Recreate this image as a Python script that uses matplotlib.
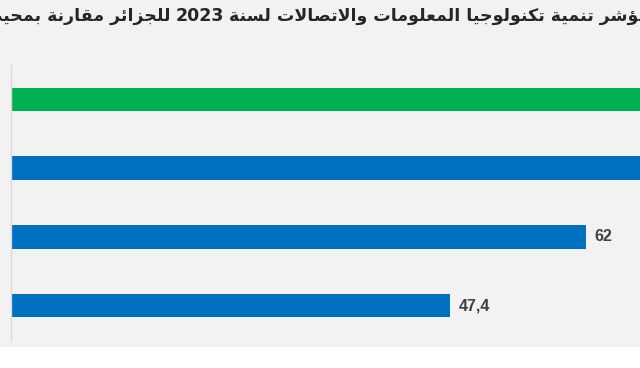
import matplotlib
matplotlib.use('Agg')
import matplotlib.pyplot as plt
from matplotlib.patches import Rectangle

# data (the two top bars run past the right edge of the picture)
categories = ['A', 'B', 'C', 'D']
values = [74.6, 73.1, 62, 47.4]
labels = ['74,6', '73,1', '62', '47,4']
colors = ['#00b050', '#0070c0', '#0070c0', '#0070c0']

title_right = 'مؤشر تنمية تكنولوجيا المعلومات والاتصالات لسنة'
title_year = '2023'
title_left = 'للجزائر مقارنة بمحيطها'

# minimal arabic shaping: letter -> (first presentation form, number of forms)
FORMS = {
    'ء': (0xFE80, 1), 'آ': (0xFE81, 2), 'أ': (0xFE83, 2), 'ؤ': (0xFE85, 2),
    'إ': (0xFE87, 2), 'ئ': (0xFE89, 4), 'ا': (0xFE8D, 2), 'ب': (0xFE8F, 4),
    'ة': (0xFE93, 2), 'ت': (0xFE95, 4), 'ث': (0xFE99, 4), 'ج': (0xFE9D, 4),
    'ح': (0xFEA1, 4), 'خ': (0xFEA5, 4), 'د': (0xFEA9, 2), 'ذ': (0xFEAB, 2),
    'ر': (0xFEAD, 2), 'ز': (0xFEAF, 2), 'س': (0xFEB1, 4), 'ش': (0xFEB5, 4),
    'ص': (0xFEB9, 4), 'ض': (0xFEBD, 4), 'ط': (0xFEC1, 4), 'ظ': (0xFEC5, 4),
    'ع': (0xFEC9, 4), 'غ': (0xFECD, 4), 'ف': (0xFED1, 4), 'ق': (0xFED5, 4),
    'ك': (0xFED9, 4), 'ل': (0xFEDD, 4), 'م': (0xFEE1, 4), 'ن': (0xFEE5, 4),
    'ه': (0xFEE9, 4), 'و': (0xFEED, 2), 'ى': (0xFEEF, 2), 'ي': (0xFEF1, 4),
}
LAM_ALEF = {'آ': 0xFEF5, 'أ': 0xFEF7, 'إ': 0xFEF9, 'ا': 0xFEFB}


def shape_word(word):
    tokens = []
    i = 0
    while i < len(word):
        c = word[i]
        if c == 'ل' and i + 1 < len(word) and word[i + 1] in LAM_ALEF:
            tokens.append(('LA', LAM_ALEF[word[i + 1]]))
            i += 2
        else:
            tokens.append((c, None))
            i += 1
    out = []
    for k, (c, lig) in enumerate(tokens):
        prev = tokens[k - 1][0] if k > 0 else None
        nxt = tokens[k + 1][0] if k + 1 < len(tokens) else None
        join_prev = prev in FORMS and FORMS[prev][1] == 4
        if lig is not None:
            out.append(chr(lig + (1 if join_prev else 0)))
            continue
        if c not in FORMS:
            out.append(c)
            continue
        base, n = FORMS[c]
        join_next = n == 4 and (nxt in FORMS or nxt == 'LA')
        if n == 1:
            idx = 0
        elif join_prev and join_next:
            idx = 3
        elif join_next:
            idx = 2
        elif join_prev:
            idx = 1
        else:
            idx = 0
        out.append(chr(base + idx))
    return ''.join(out)


def rtl(text):
    words = []
    for w in text.split(' '):
        if w.isdigit():
            words.append(w)
        else:
            words.append(shape_word(w)[::-1])
    return ' '.join(words[::-1])


fig = plt.figure(figsize=(6.4, 3.68), dpi=100)
fig.patch.set_facecolor('white')
bg = Rectangle((0, 21 / 368), 1, 1, transform=fig.transFigure,
               facecolor='#f2f2f2', edgecolor='none', zorder=-10)
fig.patches.append(bg)

ax = fig.add_axes([11 / 640, 28 / 368, 629 / 640, 275 / 368])
ax.set_facecolor('none')
ypos = range(len(categories))
bars = ax.barh(ypos, values, height=0.34, color=colors)
ax.set_xlim(0, 67.85)
ax.set_ylim(3.5, -0.5)
ax.bar_label(bars, labels=labels, padding=6, fontsize=11.5, fontweight='bold',
             color='#404040', family='Liberation Sans')

for s in ['top', 'right', 'bottom']:
    ax.spines[s].set_visible(False)
ax.spines['left'].set_color('#d9d9d9')
ax.spines['left'].set_linewidth(1)
ax.set_xticks([])
ax.set_yticks([])

# title, cut at both sides like the reference; laid out around the year
ty = 1 - 16 / 368
tkw = dict(va='center', fontsize=12.5, fontweight='bold', color='#262626',
           family='DejaVu Sans')
year = fig.text(200 / 640, ty, title_year, ha='center', **tkw)
fig.canvas.draw()
bb = year.get_window_extent()
gap = 5
fig.text((bb.x0 - gap) / 640, ty, rtl(title_left), ha='right', **tkw)
fig.text((bb.x1 + gap) / 640, ty, rtl(title_right), ha='left', **tkw)

fig.savefig('out.png', dpi=100, facecolor=fig.get_facecolor())
